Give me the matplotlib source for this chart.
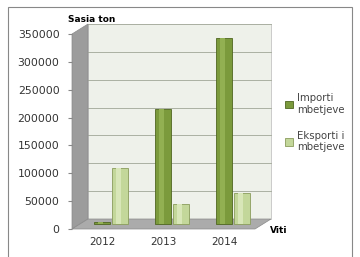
import numpy as np
import matplotlib
matplotlib.use("Agg")
import matplotlib.pyplot as plt
from matplotlib.transforms import offset_copy
from matplotlib.patches import Polygon, Rectangle

# data
years = ["2012", "2013", "2014"]
importi = [3000, 207000, 333000]
eksporti = [100000, 36000, 56000]
yticks = [0, 50000, 100000, 150000, 200000, 250000, 300000, 350000]

W, H = 360, 257
fig = plt.figure(figsize=(W / 100, H / 100), dpi=100)
fig.patch.set_facecolor("white")

# frame around the whole chart
fig.patches.append(Rectangle((8 / W, -0.05), 344 / W, 1 - 7 / H + 0.05, transform=fig.transFigure,
                             fill=False, edgecolor="#888888", linewidth=0.8))

# front plane of the axes (px)
x0, x1 = 72, 255
y0, y1 = 229, 34
ax = fig.add_axes([x0 / W, 1 - y0 / H, (x1 - x0) / W, (y0 - y1) / H])
ax.set_xlim(-0.5, 2.5)
ax.set_ylim(0, 350000)
ax.patch.set_alpha(0)
for s in ax.spines.values():
    s.set_visible(False)

# depth offsets (in points, 100 dpi)
dx, dy = 16 * 0.72, 10 * 0.72

# walls and floor in axes coords
px = 1 / (x1 - x0)
py = 1 / (y0 - y1)
back = Rectangle((16 * px, 10 * py), 1, 1, transform=ax.transAxes, facecolor="#eef1ea",
                 edgecolor="#c4c4c4", linewidth=0.6, zorder=0, clip_on=False)
ax.add_patch(back)
left = Polygon([(0, 0), (16 * px, 10 * py), (16 * px, 1 + 10 * py), (0, 1)], closed=True,
               transform=ax.transAxes, facecolor="#9c9c9c", edgecolor="#8a8a8a", linewidth=0.5,
               zorder=1, clip_on=False)
ax.add_patch(left)
floor = Polygon([(0, 0), (1, 0), (1 + 16 * px, 10 * py), (16 * px, 10 * py)], closed=True,
                transform=ax.transAxes, facecolor="#ababab", edgecolor="#8a8a8a", linewidth=0.5,
                zorder=1, clip_on=False)
ax.add_patch(floor)

# gridlines on the back wall
tr_back = offset_copy(ax.transData, fig=fig, x=dx, y=dy, units="points")
for v in yticks[1:]:
    ax.plot([-0.5, 2.5], [v, v], color="#aab0a2", linewidth=0.7, transform=tr_back,
            zorder=0.5, clip_on=False)

# bars sit at mid depth
tr_mid = offset_copy(ax.transData, fig=fig, x=dx / 2 - 1.5, y=dy / 2, units="points")
x = np.arange(len(years))
bw = 0.26
ax.bar(x - 0.1, importi, bw, color="#7b9a3c", edgecolor="#4f6620", linewidth=0.6,
       transform=tr_mid, zorder=3, label="Importi\nmbetjeve")
ax.bar(x - 0.1 - 0.03, importi, bw * 0.3, color="#92b052", linewidth=0,
       transform=tr_mid, zorder=3.1)
ax.bar(x + 0.19, eksporti, bw, color="#c3d79a", edgecolor="#8a9c5c", linewidth=0.6,
       transform=tr_mid, zorder=3, label="Eksporti i\nmbetjeve")
ax.bar(x + 0.19 - 0.03, eksporti, bw * 0.3, color="#d8e6b8", linewidth=0,
       transform=tr_mid, zorder=3.1)

ax.set_yticks(yticks)
ax.set_yticklabels([str(v) for v in yticks], fontsize=7.8, color="#333333")
ax.set_xticks(x)
ax.set_xticklabels(years, fontsize=7.5, color="#333333")
ax.tick_params(axis="y", length=3, color="#888888", pad=6)
ax.tick_params(axis="x", length=0, pad=6)

ax.text(-0.02, 1.05, "Sasia ton", transform=ax.transAxes, fontsize=6.5, fontweight="bold",
        ha="left", va="bottom")
ax.text(1.08, -0.01, "Viti", transform=ax.transAxes, fontsize=6.5, fontweight="bold",
        ha="left", va="center")

leg = ax.legend(loc="center left", bbox_to_anchor=(1.115, 0.545), frameon=False, fontsize=7.3,
                handlelength=0.8, handleheight=0.8, handletextpad=0.4, labelspacing=1.55,
                labelcolor="#444444")

fig.savefig("out.png", dpi=100)
